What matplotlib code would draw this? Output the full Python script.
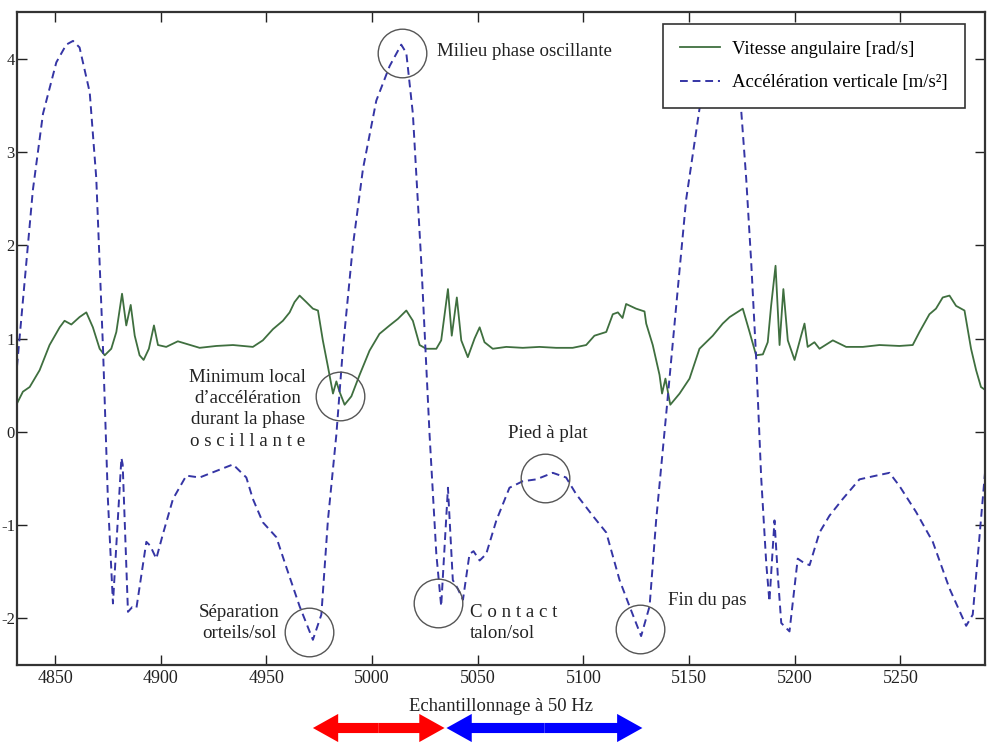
import numpy as np
import matplotlib
matplotlib.use("Agg")
import matplotlib.pyplot as plt

plt.rcParams['font.family'] = ['Liberation Serif', 'DejaVu Serif']
plt.rcParams['axes.unicode_minus'] = False

# acceleration verticale (tirets)
acc_x = [4832, 4839.5, 4844.3, 4850.6, 4855.3, 4858.5, 4861.6, 4866.4, 4869.5, 4872.7,
         4875.0, 4877.4, 4881.4, 4882.0, 4884.5, 4886.5, 4888.5, 4893.2, 4895.0, 4897.9,
         4901.0, 4905.8, 4912.1, 4918.4, 4926.3, 4934.2, 4940.5, 4943.6, 4948.3, 4954.7,
         4959.4, 4965.7, 4972.0, 4976.0, 4979.1, 4983.1, 4986.2, 4990.9, 4995.7, 5002.0,
         5008.3, 5013.8, 5016.2, 5019.3, 5023.3, 5027.2, 5030.4, 5032.7, 5035.9, 5038.2,
         5040.5, 5043.0, 5046.1, 5048.0, 5050.9, 5054.0, 5058.8, 5065.0, 5071.3, 5077.7,
         5085.5, 5091.8, 5096.6, 5104.4, 5110.8, 5117.1, 5121.8, 5127.3, 5131.3, 5134.4,
         5139.2, 5143.9, 5148.6, 5154.9, 5160.0, 5165.0, 5170.0, 5174.6, 5177.0, 5179.4,
         5181.7, 5184.1, 5186.5, 5188.0, 5190.4, 5192.0, 5193.6, 5197.5, 5201.4, 5204.0,
         5207.0, 5211.7, 5216.4, 5222.7, 5230.6, 5238.5, 5244.8, 5249.5, 5257.4, 5265.3,
         5273.2, 5281.1, 5284.2, 5290.0]
acc_y = [0.70, 2.59, 3.41, 3.96, 4.15, 4.19, 4.12, 3.64, 2.72, 0.89,
         -0.72, -1.84, -0.28, -0.35, -1.93, -1.88, -1.89, -1.18, -1.22, -1.36,
         -1.10, -0.72, -0.47, -0.49, -0.42, -0.35, -0.49, -0.72, -0.97, -1.13,
         -1.45, -1.87, -2.23, -1.96, -0.95, -0.03, 0.89, 1.99, 2.82, 3.55,
         3.92, 4.15, 4.06, 3.41, 1.81, -0.03, -1.31, -1.87, -0.60, -1.59,
         -1.68, -1.80, -1.31, -1.28, -1.38, -1.31, -0.95, -0.60, -0.53, -0.51,
         -0.44, -0.49, -0.67, -0.90, -1.08, -1.59, -1.87, -2.19, -1.87, -0.95,
         0.20, 1.35, 2.49, 3.46, 4.00, 4.20, 4.00, 3.46, 2.72, 1.81,
         0.80, -0.49, -1.41, -1.82, -0.95, -1.55, -2.05, -2.14, -1.36, -1.40,
         -1.43, -1.08, -0.90, -0.72, -0.51, -0.47, -0.44, -0.58, -0.86, -1.18,
         -1.68, -2.08, -1.96, -0.44]

# vitesse angulaire (trait plein)
vit_x = [4831.7, 4834.8, 4838.0, 4842.7, 4847.4, 4852.2, 4854.5, 4857.7, 4861.6, 4864.8,
         4867.9, 4871.1, 4873.5, 4876.6, 4879.0, 4881.7, 4883.7, 4885.8, 4887.7, 4890.0,
         4891.9, 4894.4, 4896.8, 4898.7, 4902.6, 4908.1, 4918.4, 4926.3, 4934.2, 4943.6,
         4948.3, 4953.1, 4957.8, 4961.0, 4963.3, 4965.7, 4968.9, 4972.0, 4974.4, 4976.7,
         4979.1, 4981.5, 4983.1, 4984.6, 4987.0, 4990.2, 4994.1, 4998.8, 5003.5, 5008.3,
         5012.2, 5016.2, 5019.3, 5022.5, 5025.6, 5030.4, 5032.7, 5035.9, 5037.7, 5040.1,
         5042.2, 5045.3, 5048.5, 5050.9, 5053.2, 5057.1, 5063.5, 5071.3, 5079.2, 5087.1,
         5094.9, 5101.3, 5105.2, 5110.8, 5113.9, 5116.3, 5118.5, 5120.2, 5124.9, 5128.9,
         5129.7, 5132.8, 5136.0, 5137.2, 5138.8, 5141.1, 5145.5, 5150.2, 5154.9, 5161.2,
         5165.9, 5169.2, 5175.4, 5178.6, 5181.7, 5184.9, 5187.2, 5188.8, 5190.9, 5192.8,
         5194.6, 5196.7, 5199.9, 5203.0, 5204.6, 5206.1, 5209.3, 5211.7, 5218.0, 5224.3,
         5232.2, 5240.1, 5249.5, 5255.8, 5259.0, 5263.7, 5266.8, 5270.0, 5273.2, 5276.3,
         5280.3, 5283.4, 5285.8, 5288.1, 5290.0]
vit_y = [0.29, 0.43, 0.48, 0.66, 0.93, 1.12, 1.19, 1.15, 1.23, 1.28,
         1.12, 0.89, 0.82, 0.89, 1.07, 1.48, 1.14, 1.36, 1.03, 0.82,
         0.77, 0.89, 1.14, 0.93, 0.91, 0.97, 0.90, 0.92, 0.93, 0.91,
         0.98, 1.10, 1.19, 1.28, 1.39, 1.46, 1.39, 1.32, 1.30, 0.98,
         0.70, 0.41, 0.54, 0.43, 0.29, 0.38, 0.61, 0.87, 1.05, 1.14,
         1.21, 1.30, 1.19, 0.93, 0.89, 0.89, 0.98, 1.53, 1.03, 1.44,
         0.98, 0.80, 1.00, 1.12, 0.96, 0.89, 0.91, 0.90, 0.91, 0.90,
         0.90, 0.93, 1.03, 1.07, 1.26, 1.28, 1.22, 1.37, 1.32, 1.29,
         1.16, 0.93, 0.61, 0.41, 0.57, 0.29, 0.41, 0.57, 0.89, 1.03,
         1.16, 1.23, 1.32, 1.07, 0.82, 0.83, 0.96, 1.35, 1.78, 0.93,
         1.53, 0.98, 0.77, 1.03, 1.16, 0.91, 0.96, 0.89, 0.98, 0.91,
         0.91, 0.93, 0.92, 0.93, 1.07, 1.26, 1.32, 1.44, 1.46, 1.35,
         1.30, 0.89, 0.66, 0.48, 0.45]

# points remarquables entourés (x, y)
circ_x = [5014.0, 4984.6, 5081.6, 4970.0, 5031.0, 5126.6]
circ_y = [4.06, 0.38, -0.50, -2.15, -1.84, -2.11]

fig = plt.figure(figsize=(9.88, 7.46), dpi=100)
ax = fig.add_axes([17/988, 1-665/746, 968/988, 653/746])

ax.plot(vit_x, vit_y, '-', color='#3f6f3f', lw=1.3, label='Vitesse angulaire [rad/s]')
ax.plot(acc_x, acc_y, '--', color='#3535a5', lw=1.4, dashes=(4, 2.5),
        label='Accélération verticale [m/s²]')
ax.plot(circ_x, circ_y, 'o', ms=35, mfc='none', mec='#555555', mew=1.0, zorder=4)

ax.set_xlim(4832, 5290)
ax.set_ylim(-2.5, 4.5)
ax.set_xticks(np.arange(4850, 5251, 50))
ax.set_yticks(np.arange(-2, 5, 1))
ax.tick_params(direction='in', length=7, width=1, top=True, right=True,
               labelsize=13, colors='#222222')
ax.tick_params(axis='y', pad=1.5, labelsize=12)
for s in ax.spines.values():
    s.set_linewidth(1.6)
    s.set_color('#333333')
ax.set_xlabel('Echantillonnage à 50 Hz', fontsize=13.4, labelpad=8, color='#222222')

leg = ax.legend(loc='upper right', bbox_to_anchor=(0.9793, 0.9816), borderaxespad=0,
                fontsize=13.5, fancybox=False, framealpha=1, edgecolor='#333333',
                handlelength=2.15, handletextpad=0.64, borderpad=0.9, labelspacing=0.85)
leg.get_frame().set_linewidth(1.2)

tkw = dict(fontsize=13.6, color='#222222', zorder=5)
ax.text(5030.5, 4.08, 'Milieu phase oscillante', ha='left', va='center', **tkw)
ax.text(4941.1, 0.24, 'Minimum local\nd’accélération\ndurant la phase\no s c i l l a n t e',
        ha='center', va='center', ma='center', linespacing=1.32, **tkw)
ax.text(5083.0, -0.02, 'Pied à plat', ha='center', va='center', **tkw)
ax.text(4937.3, -2.05, 'Séparation\norteils/sol', ha='center', va='center',
        linespacing=1.35, **tkw)
ax.text(5046.1, -2.05, 'C o n t a c t\ntalon/sol', ha='left', va='center',
        linespacing=1.35, **tkw)
ax.text(5139.8, -1.81, 'Fin du pas', ha='left', va='center', **tkw)

# flèches doubles sous l'axe (phase oscillante / phase d'appui)
def double_arrow(x0, x1, color):
    xm = (x0 + x1) / 2
    for xe in (x0, x1):
        ax.annotate('', xy=(xe, 18), xytext=(xm, 18),
                    xycoords=('data', 'figure pixels'), textcoords=('data', 'figure pixels'),
                    annotation_clip=False,
                    arrowprops=dict(arrowstyle='simple,head_length=0.7,head_width=0.78,tail_width=0.28',
                                    mutation_scale=26, fc=color, ec='none', lw=0,
                                    shrinkA=0, shrinkB=0))

double_arrow(4972.0, 5034.3, '#ff0000')
double_arrow(5035.2, 5127.9, '#0000ff')

fig.savefig('out.png', dpi=100)
